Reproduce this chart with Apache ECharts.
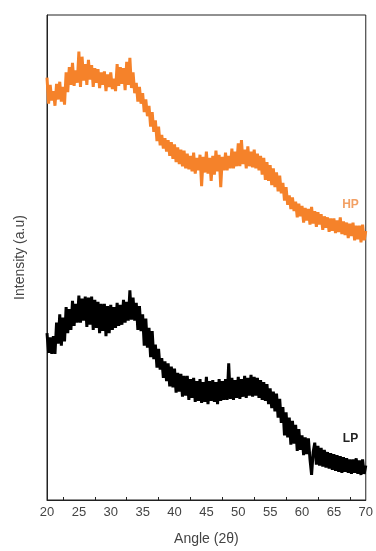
<!DOCTYPE html>
<html>
<head>
<meta charset="utf-8">
<script src="https://cdn.jsdelivr.net/npm/echarts@6/dist/echarts.min.js"></script>
<style>
  html, body { margin: 0; padding: 0; background: #fff; }
  #chart { width: 376px; height: 551px; }
</style>
</head>
<body>
<div id="chart"></div>
<script>
// 2θ from 20 to 70, step 0.25
var angleStart = 20, angleStep = 0.25
var tickValues = [22.5, 27.5, 32.5, 37.5, 42.5, 47.5, 52.5, 57.5, 62.5, 67.5]

// HP intensity (a.u)
var hp = [
  405,380,398,383, 392,378,399,384, 401,382,396,379, 410,391,415,398, 419,397,412,400,
  430,396,425,402, 418,398,422,403, 417,396,414,400, 413,395,410,398, 411,392,408,396,
  410,394,404,392, 418,397,415,399, 414,393,420,398, 424,395,410,390, 400,382,396,380,
  390,372,384,368, 378,358,372,353, 364,344,358,340, 350,337,347,334, 345,330,343,327,
  341,324,338,322, 336,320,335,318, 332,317,330,315, 333,313,328,316, 331,301,329,314,
  334,313,328,306, 330,312,335,315, 331,300,329,316, 333,316,330,318, 337,318,334,320,
  342,320,345,322, 336,318,339,320, 334,319,336,318, 332,316,330,312, 328,307,324,306,
  321,302,318,300, 314,296,311,294, 304,287,300,283, 292,279,290,277, 286,271,284,272,
  282,266,280,268, 279,264,281,265, 277,262,276,264, 274,259,272,261, 271,257,270,258,
  270,256,268,257, 271,255,267,254, 266,251,265,253, 266,249,263,250, 263,247,264,249,
  258
]

// LP intensity (a.u)
var lp = [
  160,141,156,140, 157,140,170,150, 178,148,175,152, 185,160,183,163, 191,167,188,170,
  196,170,193,172, 195,166,194,168, 195,163,192,165, 190,160,188,162, 188,157,186,160,
  187,163,185,165, 189,167,187,168, 192,170,190,172, 201,173,194,172, 189,163,186,162,
  178,148,174,146, 165,137,162,135, 149,127,145,125, 136,117,133,114, 131,109,128,108,
  126,103,122,104, 121,99,119,100, 119,96,116,98, 117,94,114,95, 116,93,113,94,
  118,92,114,95, 115,94,113,92, 116,95,114,96, 116,96,131,97, 117,96,115,98,
  118,97,116,99, 119,98,117,100, 120,99,118,100, 117,98,115,96, 113,95,111,92,
  107,88,104,85, 102,79,97,74, 89,62,84,60, 79,53,76,54, 72,47,68,48,
  62,43,60,44, 59,39,24,46, 55,34,52,33, 50,32,48,31, 46,30,45,29,
  44,28,43,27, 42,26,41,27, 40,26,39,25, 39,26,40,25, 38,24,39,25,
  33
]

var toPairs = function(arr){
    return arr.map(function(v, i){ return [angleStart + i*angleStep, v] })
}

var chart = echarts.init(document.getElementById('chart'))
var font = 'Liberation Sans, Arial, sans-serif'

var options = {
    animation: false,
    grid: { left: 47, right: 7, top: 15, bottom: 46, show: true, borderColor: '#222', borderWidth: 1 },
    xAxis: {
        type: 'value', min: 20, max: 70, interval: 5,
        name: 'Angle (2θ)', nameLocation: 'middle', nameGap: 32,
        nameTextStyle: { fontFamily: font, fontSize: 14, color: '#444' },
        axisLine: { show: true, lineStyle: { color: '#222', width: 1 } },
        axisTick: { show: true, inside: true, length: 3, customValues: tickValues, lineStyle: { color: '#222' } },
        axisLabel: { fontFamily: font, fontSize: 13, color: '#444', margin: 6 },
        splitLine: { show: false }
    },
    yAxis: {
        type: 'value', min: 0, max: 465,
        name: 'Intensity (a.u)', nameLocation: 'middle', nameGap: 20,
        nameTextStyle: { fontFamily: font, fontSize: 14, color: '#444' },
        axisLine: { show: true, lineStyle: { color: '#222', width: 1 } },
        axisTick: { show: false },
        axisLabel: { show: false },
        splitLine: { show: false }
    },
    series: []
}

options.series.push({
    name: 'HP', type: 'line', data: toPairs(hp), showSymbol: false,
    lineStyle: { color: '#f5822a', width: 3, join: 'bevel' },
    markPoint: {
        symbol: 'circle', symbolSize: 1, itemStyle: { color: 'transparent' },
        label: { show: true, formatter: 'HP', color: '#f2a064', fontWeight: 'bold', fontSize: 12, fontFamily: font },
        data: [{ coord: [67.6, 283] }]
    }
})
options.series.push({
    name: 'LP', type: 'line', data: toPairs(lp), showSymbol: false,
    lineStyle: { color: '#000', width: 3, join: 'bevel' },
    markPoint: {
        symbol: 'circle', symbolSize: 1, itemStyle: { color: 'transparent' },
        label: { show: true, formatter: 'LP', color: '#222', fontWeight: 'bold', fontSize: 12, fontFamily: font },
        data: [{ coord: [67.6, 59] }]
    }
})

chart.setOption(options)
</script>
</body>
</html>
